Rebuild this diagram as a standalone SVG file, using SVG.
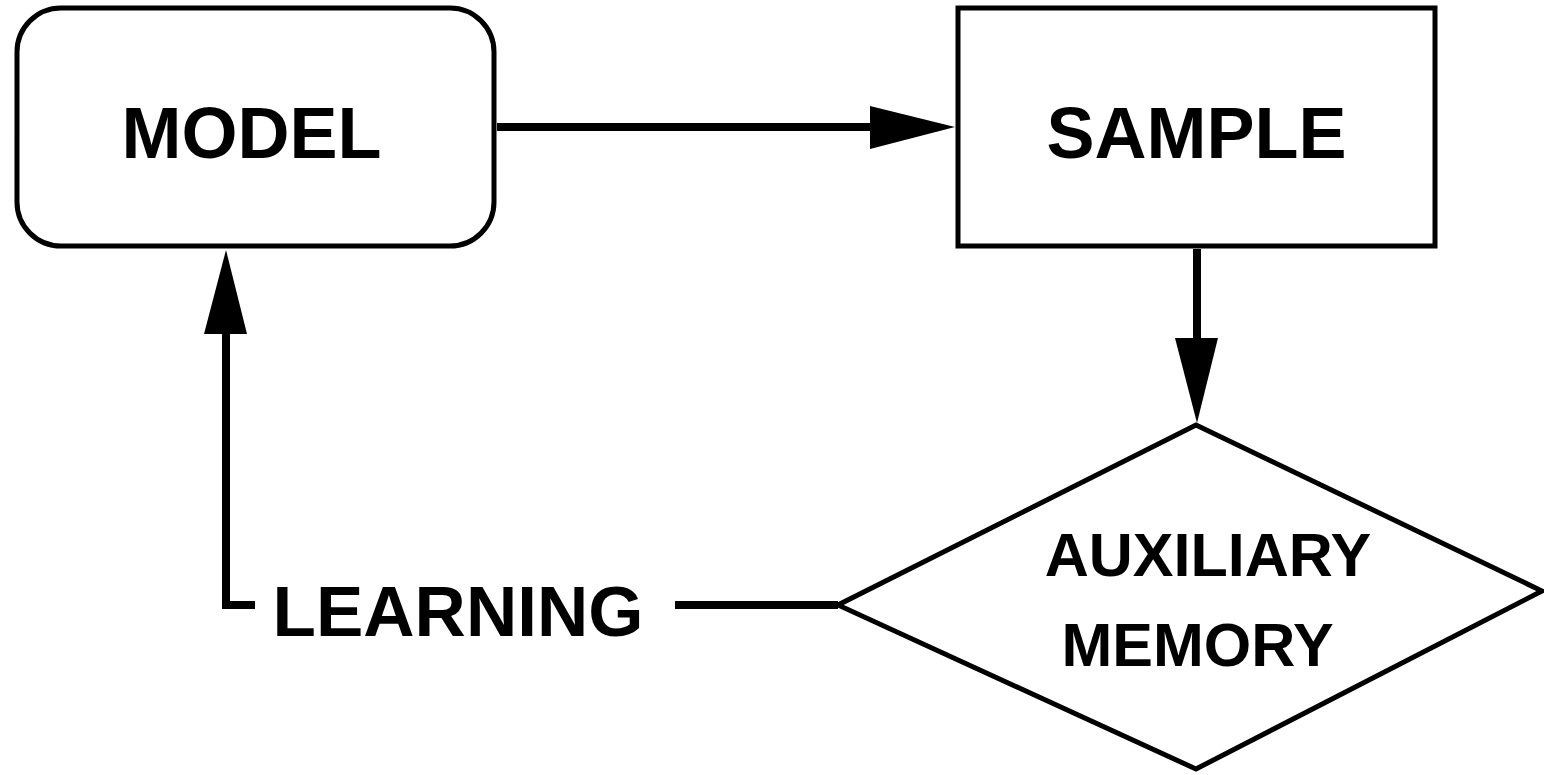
<svg xmlns="http://www.w3.org/2000/svg" width="1544" height="775" viewBox="0 0 1544 775">
<style>
.box{fill:#fff;stroke:#000;stroke-width:5}
.lbl{font-family:"Liberation Sans",Arial,sans-serif;font-weight:bold;fill:#000;text-anchor:middle}
.big{font-size:72px}
.mid{font-size:61px}
.conn{fill:none;stroke:#000;stroke-width:8}
.head{fill:#000;stroke:none}
</style>
<rect width="1544" height="775" fill="#fff"/>
<g id="model">
<rect class="box" x="17" y="8" width="477" height="238" rx="44" ry="44"/>
<text class="lbl big" x="251.5" y="158">MODEL</text>
</g>
<g id="sample">
<rect class="box" x="958" y="8" width="477" height="238"/>
<text class="lbl big" x="1196.5" y="158">SAMPLE</text>
</g>
<g id="memory">
<polygon class="box" points="1196,425 1542,591 1196,769 838,605"/>
<text class="lbl mid" x="1208" y="576">AUXILIARY</text>
<text class="lbl mid" x="1197.5" y="666">MEMORY</text>
</g>
<g id="learning">
<text class="lbl big" x="458" y="636" style="font-size:71px">LEARNING</text>
</g>
<g id="connectors">
<line class="conn" x1="497" y1="127" x2="872" y2="127"/>
<polygon class="head" points="870,106 955,127 870,149"/>
<line class="conn" x1="1197" y1="249" x2="1197" y2="340"/>
<polygon class="head" points="1175,338 1197,423 1218,338"/>
<line class="conn" x1="675" y1="605" x2="838" y2="605"/>
<polyline class="conn" points="255,605 226,605 226,332"/>
<polygon class="head" points="204,334 226,250 247,334"/>
</g>
</svg>
